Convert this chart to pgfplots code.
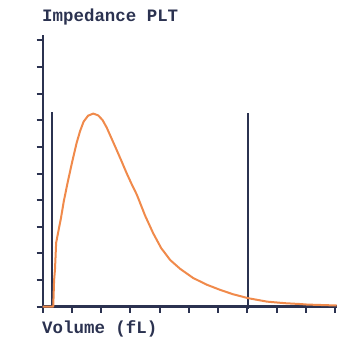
\documentclass[border=0pt]{standalone}
\usepackage{pgfplots}
\pgfplotsset{compat=1.18}
\usepackage{fontspec}
\setmainfont{Liberation Mono}
\definecolor{axcol}{HTML}{2B3250}
\definecolor{curve}{HTML}{F08A4B}
\begin{document}
\begin{tikzpicture}[x=1bp,y=1bp]
\useasboundingbox (0,0) rectangle (337,337);
\begin{axis}[
  at={(42.7bp,30.3bp)}, anchor=origin,
  scale only axis, width=294bp, height=271.7bp,
  xmin=0, xmax=10.05, ymin=0, ymax=10.2,
  axis x line*=bottom, axis y line*=left,
  axis line style={axcol, line width=2.4bp, -},
  xtick={0,1,...,10}, ytick={0,1,...,10},
  xticklabels={}, yticklabels={},
  tick align=outside, major tick length=6bp,
  tick style={axcol, line width=2bp},
  clip=false,
]
\addplot[axcol, line width=1.8bp] coordinates {(0.33,0) (0.33,7.30)};
\addplot[axcol, line width=1.8bp] coordinates {(7.03,-0.1) (7.03,7.26)};
\addplot[curve, line width=2bp, line join=round] coordinates {
(0,0) (0.36,0) (0.39,1.0) (0.42,1.4) (0.46,2.4) (0.53,2.8) (0.62,3.3)
(0.72,3.95) (0.85,4.65) (1.0,5.4) (1.16,6.15) (1.28,6.6) (1.40,6.95)
(1.55,7.17) (1.73,7.25) (1.90,7.18) (2.05,7.0) (2.19,6.72) (2.36,6.3) (2.53,5.88)
(2.70,5.45) (2.87,5.01) (3.05,4.58) (3.22,4.2) (3.5,3.42) (3.78,2.75)
(4.05,2.2) (4.36,1.75) (4.7,1.42) (5.14,1.08) (5.6,0.83) (6.07,0.63)
(6.5,0.47) (7.02,0.32) (7.67,0.19) (8.3,0.13) (8.80,0.10) (9.04,0.08) (10.05,0.045)
};
\end{axis}
\node[anchor=west, inner sep=0pt, font=\fontsize{17.5}{18}\selectfont\bfseries, text=axcol] at (42,320) {Impedance PLT};
\node[anchor=west, inner sep=0pt, font=\fontsize{17.5}{18}\selectfont\bfseries, text=axcol] at (42,8) {Volume (fL)};
\end{tikzpicture}
\end{document}
